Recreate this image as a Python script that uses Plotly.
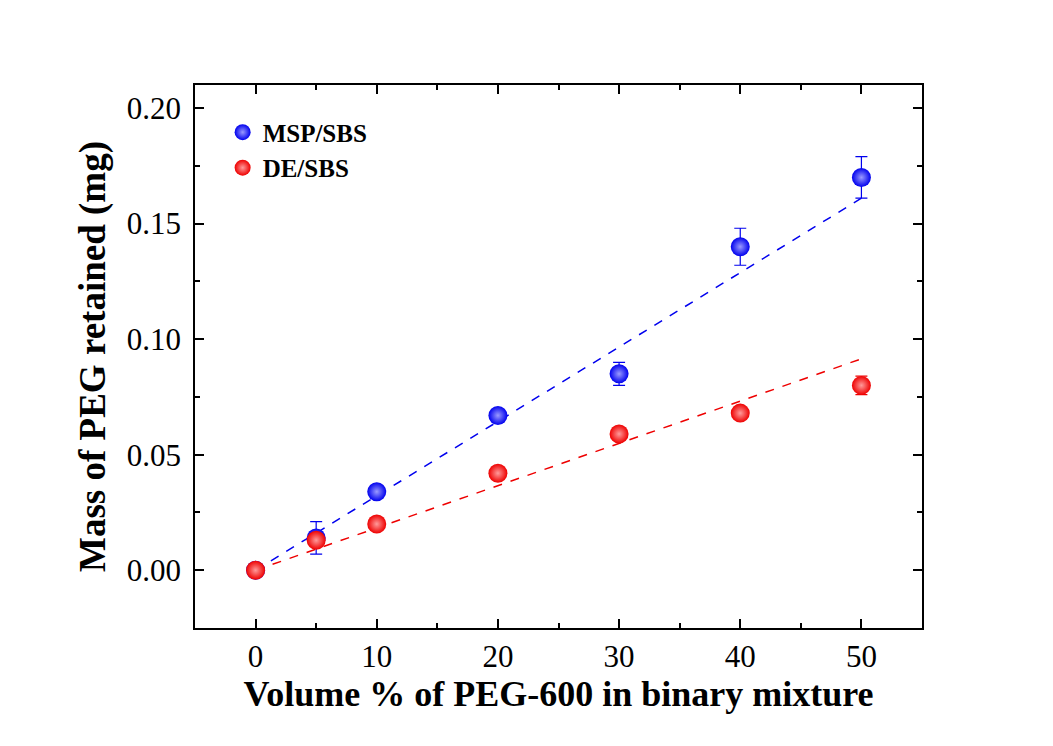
import plotly.graph_objects as go
import numpy as np

volume_pct = [0, 5, 10, 20, 30, 40, 50]
msp_sbs = [0.0, 0.014, 0.034, 0.067, 0.085, 0.140, 0.170]
msp_err = [0.001, 0.007, 0.002, 0.002, 0.005, 0.008, 0.009]
de_sbs = [0.0, 0.013, 0.020, 0.042, 0.059, 0.068, 0.080]
de_err = [0.001, 0.002, 0.001, 0.002, 0.002, 0.002, 0.004]
fit_slope = {"MSP/SBS": 0.00322, "DE/SBS": 0.00183}
fit_x = [0, 50]

font_family = "Liberation Serif"
fig = go.Figure()

for name, ys, errs, col, light in [
    ("MSP/SBS", msp_sbs, msp_err, "#0000ee", "#9a9aff"),
    ("DE/SBS", de_sbs, de_err, "#ee0000", "#ff9a9a"),
]:
    fx = np.array(fit_x, dtype=float)
    fig.add_trace(go.Scatter(x=fx, y=fit_slope[name] * fx, mode="lines",
                             line=dict(color=col, width=1.5, dash="dash"),
                             showlegend=False, hoverinfo="skip"))
    fig.add_trace(go.Scatter(
        x=volume_pct, y=ys, mode="markers", name=name,
        error_y=dict(type="data", array=errs, color=col, thickness=1.2, width=6),
        marker=dict(size=19, color=col, line=dict(width=0),
                    gradient=dict(type="radial", color=light)),
    ))

axis_common = dict(showline=True, linecolor="black", linewidth=1.5, mirror="ticks",
                   ticks="inside", ticklen=9, tickwidth=1.5, tickcolor="black",
                   showgrid=False, zeroline=False,
                   tickfont=dict(family=font_family, size=31, color="black"))

fig.update_xaxes(range=[-5, 55], dtick=10, tick0=0,
                 minor=dict(ticks="inside", dtick=5, ticklen=5, tickwidth=1.5, tickcolor="black"),
                 ticklabelstandoff=0,
                 title=dict(text="<b>Volume % of PEG-600 in binary mixture</b>",
                            font=dict(family=font_family, size=36, color="black"), standoff=0),
                 **axis_common)
fig.update_yaxes(range=[-0.025, 0.21], dtick=0.05, tick0=0, tickformat=".2f",
                 minor=dict(ticks="inside", dtick=0.025, ticklen=5, tickwidth=1.5, tickcolor="black"),
                 ticklabelstandoff=6,
                 title=dict(text="<b>Mass of PEG retained (mg)</b>",
                            font=dict(family=font_family, size=37, color="black"), standoff=10),
                 **axis_common)

fig.update_layout(
    width=1053, height=746,
    margin=dict(l=187, r=139, t=77, b=126),
    paper_bgcolor="white", plot_bgcolor="white",
    legend=dict(x=0.038, y=0.955, xanchor="left", yanchor="top",
                font=dict(family=font_family, size=25, color="black", weight="bold"),
                bgcolor="rgba(0,0,0,0)", itemsizing="trace", tracegroupgap=0),
    showlegend=True,
)

fig.write_html("out.html")
